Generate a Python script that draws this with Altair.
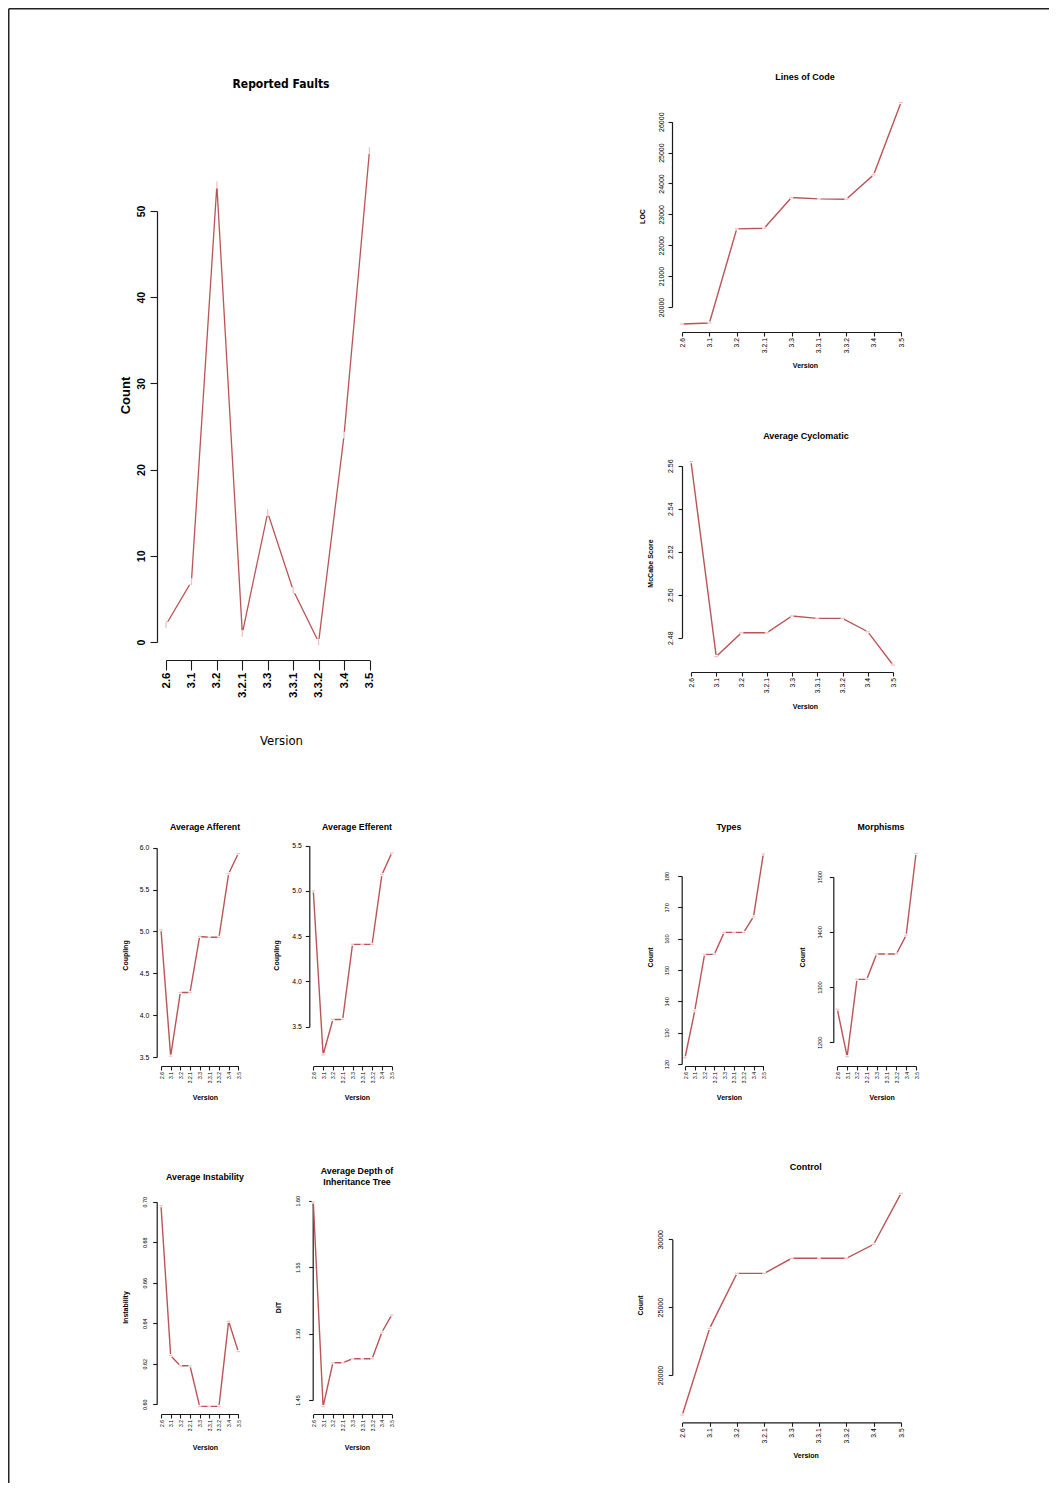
import altair as alt
import pandas as pd

# ---------------- data ----------------
versions = ["2.6", "3.1", "3.2", "3.2.1", "3.3", "3.3.1", "3.3.2", "3.4", "3.5"]

faults_values = [2, 7, 53, 1, 15, 6, 0, 24, 57]
loc_values = [19450, 19480, 22530, 22550, 23545, 23500, 23490, 24280, 26620]
cyclomatic_values = [2.5619, 2.4712, 2.4823, 2.4823, 2.4901, 2.4890, 2.4890, 2.4828, 2.4673]
afferent_values = [5.02, 3.51, 4.27, 4.27, 4.94, 4.93, 4.93, 5.69, 5.93]
efferent_values = [5.00, 3.19, 3.58, 3.58, 4.41, 4.41, 4.41, 5.18, 5.42]
types_values = [122, 137, 155, 155, 162, 162, 162, 167, 187]
morphisms_values = [1260, 1174, 1314, 1314, 1360, 1360, 1360, 1394, 1542]
instability_values = [0.698, 0.624, 0.619, 0.619, 0.599, 0.599, 0.599, 0.641, 0.626]
dit_values = [1.599, 1.445, 1.478, 1.478, 1.481, 1.481, 1.481, 1.501, 1.514]
control_values = [17050, 23440, 27490, 27490, 28600, 28600, 28600, 29630, 33390]

faults_ticks = [0, 10, 20, 30, 40, 50]
loc_ticks = [20000, 21000, 22000, 23000, 24000, 25000, 26000]
cyclomatic_ticks = [2.48, 2.50, 2.52, 2.54, 2.56]
afferent_ticks = [3.5, 4.0, 4.5, 5.0, 5.5, 6.0]
efferent_ticks = [3.5, 4.0, 4.5, 5.0, 5.5]
types_ticks = [120, 130, 140, 150, 160, 170, 180]
morphisms_ticks = [1200, 1300, 1400, 1500]
instability_ticks = [0.60, 0.62, 0.64, 0.66, 0.68, 0.70]
dit_ticks = [1.45, 1.50, 1.55, 1.60]
control_ticks = [20000, 25000, 30000]

# ---------------- styling / layout ----------------
W, H = 1041, 1475
OX, OY = 8, 8
LINE = "#bb5456"
PIP = "#efc4c4"
AX = "#1a1a1a"
SANS = "Liberation Sans, Arial, sans-serif"
NARROW = "Liberation Sans Narrow, DejaVu Sans Condensed, Liberation Sans, sans-serif"

label_expr = "[" + ",".join("'" + v + "'" for v in versions) + "][datum.value]"


def text_layer(s, x, y, fs, font=SANS, weight="bold"):
    return alt.Chart(pd.DataFrame({"t": [s]})).mark_text(
        font=font, fontSize=fs, fontWeight=weight, align="center",
        baseline="middle", color="black"
    ).encode(x=alt.value(x - OX), y=alt.value(y - OY), text="t:N")


def panel(values, ticks, fmt, xpx, ypx, axis_x, axis_y, ytitle, ytitle_xy, xtitle_xy,
          ylab_fs, xlab_fs, ytick, xtick, ylab_pad, xlab_pad, rot=True,
          label_font=SANS, label_weight="normal", axt_fs=7, axt_font=SANS,
          yaxt_fs=None, yaxt_font=None, xaxt_weight="bold",
          lw=1.4, gap=10, pip=16, pip_angle=0):
    n = len(versions) - 1
    df = pd.DataFrame({"idx": list(range(len(versions))), "value": values, "version": versions})
    xaxis = alt.Axis(
        orient="bottom", values=list(range(len(versions))), labelExpr=label_expr,
        offset=(axis_y - OY) - H, tickSize=xtick, tickColor=AX, tickWidth=1.1,
        domainColor=AX, domainWidth=1.2,
        labelAngle=270, labelAlign="right", labelBaseline="middle",
        labelPadding=xlab_pad, labelFontSize=xlab_fs, labelFont=label_font,
        labelFontWeight=label_weight, labelColor="black",
        labelOverlap=False, labelFlush=False, labelBound=False,
        title="Version", titleX=xtitle_xy[0] - OX, titleY=xtitle_xy[1] - axis_y,
        titleAlign="center", titleBaseline="middle", titleAngle=0,
        titleFontSize=axt_fs, titleFont=axt_font, titleFontWeight=xaxt_weight, titleColor="black",
        grid=False,
    )
    yaxis = alt.Axis(
        orient="left", values=ticks, format=fmt,
        offset=-(axis_x - OX), tickSize=ytick, tickColor=AX, tickWidth=1.1,
        domainColor=AX, domainWidth=1.2,
        labelAngle=270 if rot else 0, labelAlign="center" if rot else "right",
        labelBaseline="bottom" if rot else "middle",
        labelPadding=ylab_pad, labelFontSize=ylab_fs, labelFont=label_font,
        labelFontWeight=label_weight, labelColor="black",
        labelOverlap=False, labelFlush=False, labelBound=False,
        title=ytitle, titleX=ytitle_xy[0] - axis_x, titleY=ytitle_xy[1] - OY,
        titleAlign="center", titleBaseline="middle", titleAngle=270,
        titleFontSize=yaxt_fs or axt_fs, titleFont=yaxt_font or axt_font,
        titleFontWeight="bold", titleColor="black",
        grid=False,
    )
    base = alt.Chart(df).encode(
        x=alt.X("idx:Q", axis=xaxis,
                scale=alt.Scale(domain=[0, n], range=[xpx[0] - OX, xpx[1] - OX], nice=False, zero=False)),
        y=alt.Y("value:Q", axis=yaxis,
                scale=alt.Scale(domain=[ticks[0], ticks[-1]], range=[ypx[0] - OY, ypx[1] - OY],
                                nice=False, zero=False)),
    )
    line = base.mark_line(color=LINE, strokeWidth=lw)
    gaps = base.mark_point(shape="square", filled=True, color="white", opacity=1, size=gap, strokeWidth=0)
    pips = base.mark_point(shape="stroke", color=PIP, opacity=1, size=pip, strokeWidth=1.3, angle=pip_angle)
    return alt.layer(line, gaps, pips)


layers = []

# Reported Faults
layers.append(panel(faults_values, faults_ticks, "d", (166, 369.5), (642, 211), 157, 660,
                    "Count", (125, 395), (281, 740),
                    ylab_fs=10.5, xlab_fs=11.5, ytick=7, xtick=10, ylab_pad=4, xlab_pad=2,
                    label_weight="bold", axt_fs=13, axt_font=NARROW, yaxt_fs=13, yaxt_font=SANS,
                    xaxt_weight="normal", lw=1.3, gap=36, pip=50, pip_angle=90))
layers.append(text_layer("Reported Faults", 281, 84, 12, font=NARROW))

# Lines of Code
layers.append(panel(loc_values, loc_ticks, "d", (682, 901), (307, 121.7), 672, 332,
                    "LOC", (642, 216), (805, 365),
                    ylab_fs=7, xlab_fs=6.8, ytick=4, xtick=4, ylab_pad=4, xlab_pad=1.5))
layers.append(text_layer("Lines of Code", 805, 77, 9))

# Average Cyclomatic
layers.append(panel(cyclomatic_values, cyclomatic_ticks, ".2f", (691, 893), (637.7, 465.7), 682, 672,
                    "McCabe Score", (650, 563), (805, 706),
                    ylab_fs=7, xlab_fs=6.8, ytick=4, xtick=4, ylab_pad=5, xlab_pad=1.5))
layers.append(text_layer("Average Cyclomatic", 806, 436, 9))

# Average Afferent
layers.append(panel(afferent_values, afferent_ticks, ".1f", (161, 238.3), (1057, 847.7), 156.7, 1066,
                    "Coupling", (125, 955), (205, 1097),
                    ylab_fs=6.8, xlab_fs=5, ytick=4, xtick=4, ylab_pad=4, xlab_pad=1.5, rot=False,
                    gap=9, pip=12))
layers.append(text_layer("Average Afferent", 205, 827, 8.8))

# Average Efferent
layers.append(panel(efferent_values, efferent_ticks, ".1f", (313.3, 391.7), (1026.7, 845.7), 309.3, 1066,
                    "Coupling", (276.7, 955), (357, 1097),
                    ylab_fs=6.8, xlab_fs=5, ytick=4, xtick=4, ylab_pad=4, xlab_pad=1.5, rot=False,
                    gap=9, pip=12))
layers.append(text_layer("Average Efferent", 357, 827, 8.8))

# Types
layers.append(panel(types_values, types_ticks, "d", (685, 763.3), (1064, 876), 681.7, 1066,
                    "Count", (650, 957), (729, 1097),
                    ylab_fs=5.6, xlab_fs=5, ytick=4, xtick=4, ylab_pad=8, xlab_pad=1.5,
                    gap=9, pip=12))
layers.append(text_layer("Types", 729, 827, 8.8))

# Morphisms
layers.append(panel(morphisms_values, morphisms_ticks, "d", (837.3, 916), (1042.3, 876.7), 833.3, 1066,
                    "Count", (802.7, 957), (881.7, 1097),
                    ylab_fs=5.6, xlab_fs=5, ytick=4, xtick=4, ylab_pad=6.5, xlab_pad=1.5,
                    gap=9, pip=12))
layers.append(text_layer("Morphisms", 881, 827, 8.8))

# Average Instability
layers.append(panel(instability_values, instability_ticks, ".2f", (161, 238.3), (1404.3, 1201.7), 156.7, 1414,
                    "Instability", (125, 1307), (205, 1447),
                    ylab_fs=5.4, xlab_fs=5, ytick=4, xtick=4, ylab_pad=5, xlab_pad=1.5,
                    gap=9, pip=12))
layers.append(text_layer("Average Instability", 205, 1177, 8.8))

# Average Depth of Inheritance Tree
layers.append(panel(dit_values, dit_ticks, ".2f", (313.3, 391.7), (1400, 1200.7), 312.7, 1414,
                    "DIT", (278, 1307), (357, 1447),
                    ylab_fs=5.4, xlab_fs=5, ytick=4, xtick=4, ylab_pad=8.5, xlab_pad=1.5,
                    gap=9, pip=12))
layers.append(text_layer("Average Depth of", 357, 1171, 8.8))
layers.append(text_layer("Inheritance Tree", 357, 1182, 8.8))

# Control
layers.append(panel(control_values, control_ticks, "d", (682.3, 901), (1375, 1239.3), 672.3, 1422.3,
                    "Count", (640.7, 1305), (805.7, 1455),
                    ylab_fs=7, xlab_fs=6.8, ytick=4, xtick=4, ylab_pad=5, xlab_pad=1.5))
layers.append(text_layer("Control", 805.7, 1167, 9))

# page frame (top and left edges)
frame_df = pd.DataFrame({"k": [0]})
layers.append(alt.Chart(frame_df).mark_rule(color="#222", strokeWidth=1.5).encode(
    x=alt.value(0.75), x2=alt.value(W), y=alt.value(0.75)))
layers.append(alt.Chart(frame_df).mark_rule(color="#222", strokeWidth=1.5).encode(
    x=alt.value(0.75), y=alt.value(0.75), y2=alt.value(H)))

chart = alt.layer(*layers).resolve_scale(
    x="independent", y="independent"
).resolve_axis(
    x="independent", y="independent"
).properties(
    width=W, height=H, padding=0,
    autosize=alt.AutoSizeParams(type="none"),
    background="white",
).configure_view(stroke=None).configure_axis(grid=False)

chart.save("out.html", embed_options={"renderer": "svg", "actions": False})
